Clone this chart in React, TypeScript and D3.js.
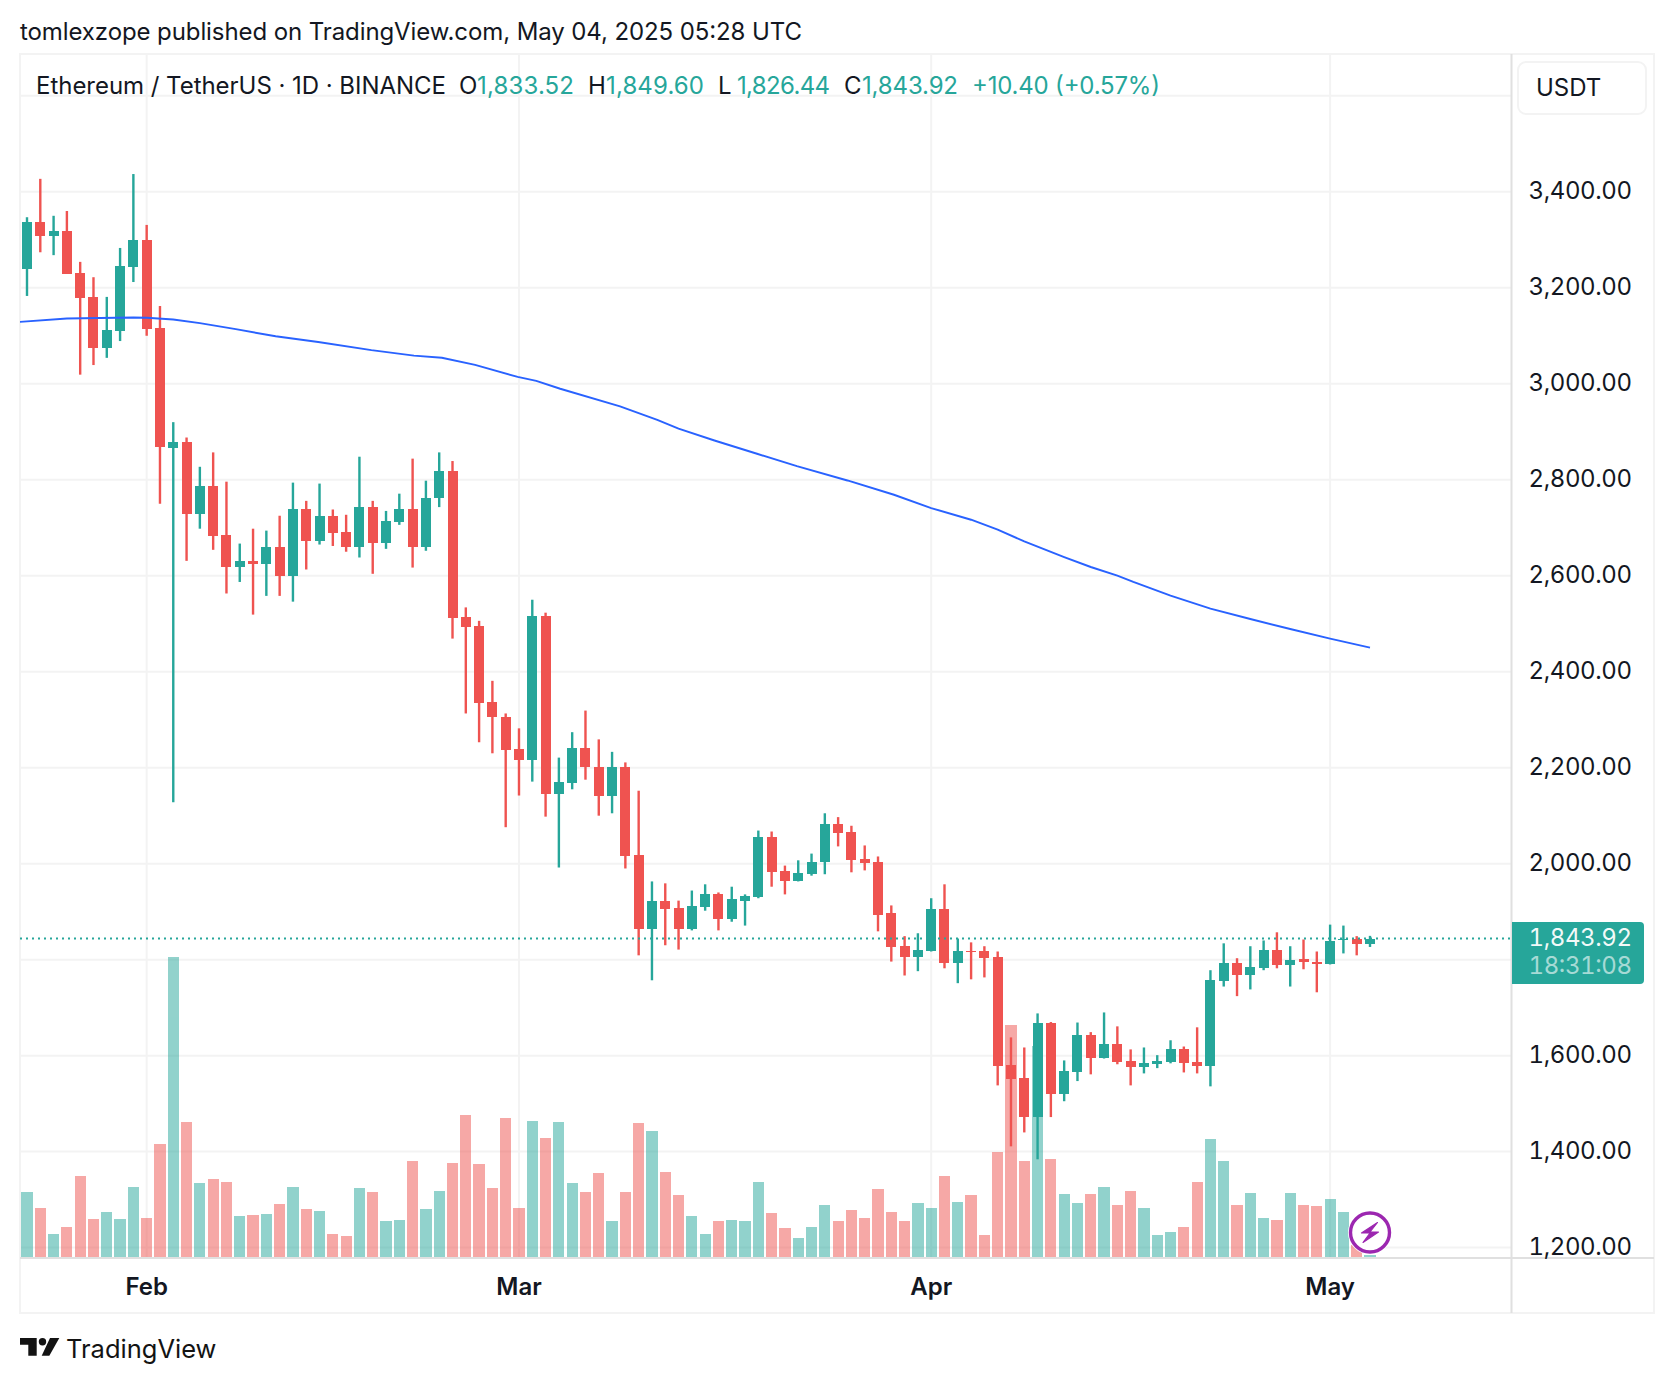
import React from "react";
import * as d3 from "d3";

// Daily ETH/USDT candles, 23 Jan 2025 to 4 May 2025
const opens = [3239,3337,3308,3318,3231,3181,3075,3110,3243,3300,3117,2867,2879,2729,2787,2685,2619,2631,2625,2660,2600,2738,2673,2725,2691,2659,2743,2669,2712,2738,2660,2761,2819,2513,2496,2336,2306,2238,2215,2517,2146,2169,2242,2202,2140,2202,2019,1863,1923,1907,1863,1909,1936,1884,1923,1930,2055,1984,1963,1978,2003,2082,2065,2009,2003,1897,1828,1805,1819,1905,1792,1819,1817,1805,1580,1553,1472,1669,1520,1565,1644,1595,1624,1588,1576,1582,1586,1613,1586,1578,1755,1794,1767,1782,1821,1788,1801,1796,1790,1840,1842,1833.52];
const highs = [3347,3427,3350,3360,3254,3222,3181,3283,3437,3331,3162,2920,2888,2827,2857,2796,2667,2698,2694,2725,2794,2756,2792,2738,2727,2848,2756,2735,2771,2844,2798,2857,2839,2534,2506,2381,2313,2282,2550,2523,2221,2274,2319,2259,2233,2211,2152,1963,1959,1923,1944,1957,1940,1952,1936,2069,2067,1996,2007,2021,2105,2097,2079,2038,2015,1913,1849,1855,1928,1957,1844,1836,1828,1817,1638,1617,1688,1670,1590,1669,1649,1690,1661,1613,1617,1601,1632,1619,1659,1778,1834,1803,1828,1840,1857,1828,1842,1817,1873,1871,1849,1849.6];
const lows = [3183,3274,3268,3229,3019,3039,3054,3089,3212,3100,2750,2128,2631,2698,2654,2563,2587,2519,2558,2558,2546,2613,2665,2662,2650,2638,2604,2656,2706,2617,2652,2743,2469,2313,2253,2230,2076,2142,2171,2098,1992,2155,2175,2100,2105,1990,1809,1757,1830,1821,1861,1902,1861,1879,1871,1928,1952,1936,1963,1975,1978,2036,1982,1986,1859,1796,1767,1776,1817,1782,1751,1759,1763,1538,1411,1440,1384,1472,1505,1547,1561,1594,1582,1538,1563,1574,1584,1565,1563,1536,1744,1724,1738,1778,1782,1744,1780,1732,1790,1813,1809,1826.44];
const closes = [3337,3308,3318,3229,3179,3075,3112,3245,3300,3115,2868,2879,2729,2787,2683,2619,2631,2625,2660,2600,2738,2673,2725,2690,2659,2743,2669,2715,2738,2660,2763,2819,2511,2494,2334,2305,2236,2215,2517,2146,2171,2242,2201,2140,2202,2017,1863,1923,1905,1863,1911,1936,1884,1926,1932,2055,1982,1963,1980,2004,2082,2063,2007,2001,1894,1826,1805,1821,1905,1792,1817,1815,1803,1578,1551,1472,1669,1520,1567,1644,1595,1624,1586,1576,1584,1588,1613,1584,1578,1757,1794,1767,1784,1821,1788,1799,1796,1790,1838,1844,1832,1843.92];
// volume in thousands of ETH (estimated from the bars)
const volumes = [520,392,184,240,648,304,360,304,560,312,904,2400,1080,592,624,600,328,336,344,424,560,384,368,184,168,552,520,288,296,768,384,528,752,1136,744,552,1112,392,1088,952,1080,592,520,672,288,520,1072,1008,680,496,328,184,288,296,288,600,352,232,152,240,416,288,376,312,544,360,288,432,392,648,440,496,176,840,1856,768,1688,784,504,432,504,560,416,528,392,176,200,240,600,944,768,416,512,312,296,512,416,408,464,360,96,16];
// moving average line, read at these candle indexes
const maDays = [-1,3,8,9,11,13,15.7,18.7,21.9,25.9,29.1,31.2,33.7,36.9,38.3,40.1,44.6,47.4,49,51.7,54.9,57.9,61.7,65.2,68,71,73,75,78,80,82,83.2,86,89,92,95,98,101];
const maValues = [3128,3136,3138,3137.6,3133.8,3126.4,3113.8,3098.9,3087,3070,3058.7,3054.3,3039.4,3014.2,3006,2989.6,2953,2924.9,2906.3,2881.8,2854.2,2828.2,2798.5,2768.7,2741,2716.7,2695.9,2671.6,2639,2618.2,2600.1,2587,2558.5,2531.4,2509.9,2489,2469,2450.2];
const priceTicks = [1200,1400,1600,2000,2200,2400,2600,2800,3000,3200,3400];
const priceGrid = [...priceTicks, 1800, 3600];
const monthDays = [9,37,68,98];
const monthLabels = ["Feb","Mar","Apr","May"];

const GREEN = "#26a69a";
const RED = "#ef5350";
const BLUE = "#2962ff";
const GRID = "#f3f3f3";
const AXIS = "#e0e0e0";
const INK = "#131722";
const FONT = "Inter, 'Noto Sans', sans-serif";

const L = 20, R = 1511.5, FR = 1654, T = 54, AB = 1258, B = 1313;
const tabular = { fontVariantNumeric: "tabular-nums", fontFeatureSettings: "'tnum'" } as const;

const x = d3.scaleLinear().domain([0, 101]).range([27, 1370]);
const y = d3.scaleLinear().domain([3400, 1200]).range([191.8, 1247.6]);
const v = d3.scaleLinear().domain([0, 2400]).range([1256.5, 956.5]);
const fmt = d3.format(",.2f");
const maLine = d3.line<number>().x((_, i) => x(maDays[i])).y((d) => y(d));

export default function App() {
  const last = closes[closes.length - 1];
  const legend: [number, string, string, number | undefined][] = [
    [36, "Ethereum / TetherUS · 1D · BINANCE", INK, 410],
    [459, "O", INK, undefined], [477, fmt(opens[101]), GREEN, 97],
    [588, "H", INK, undefined], [606, fmt(highs[101]), GREEN, 98],
    [718, "L", INK, undefined], [737, fmt(lows[101]), GREEN, 93],
    [844, "C", INK, undefined], [862, fmt(closes[101]), GREEN, 96],
    [972, "+10.40 (+0.57%)", GREEN, 188],
  ];
  return (
    <svg width={1674} height={1384} viewBox="0 0 1674 1384"
      style={{ position: "absolute", left: 0, top: 0, background: "#fff", fontFamily: FONT }}>
      <defs>
        <clipPath id="pane"><rect x={L} y={T} width={R - L} height={AB - T} /></clipPath>
      </defs>
      <text x={20} y={39.5} fontSize={24} fill="#131722" textLength={782} lengthAdjust="spacing">tomlexzope published on TradingView.com, May 04, 2025 05:28 UTC</text>

      {/* frame */}
      <rect x={L} y={T} width={FR - L} height={B - T} fill="none" stroke={GRID} strokeWidth={2} />

      {/* grid */}
      {priceGrid.map((p) => (
        <line key={p} x1={L} x2={R} y1={y(p)} y2={y(p)} stroke={GRID} strokeWidth={2} />
      ))}
      {monthDays.map((d) => (
        <line key={d} x1={x(d)} x2={x(d)} y1={T} y2={AB} stroke={GRID} strokeWidth={2} />
      ))}

      {/* volume */}
      <g opacity={0.5} shapeRendering="crispEdges">
        {volumes.map((val, i) => (
          <rect key={i} x={x(i) - 5.6} width={11.2} y={v(val)} height={v(0) - v(val)}
            fill={closes[i] >= opens[i] ? GREEN : RED} />
        ))}
      </g>

      {/* candles */}
      <g clipPath="url(#pane)">
        {opens.map((o, i) => {
          const c = closes[i];
          const col = c >= o ? GREEN : RED;
          const top = y(Math.max(o, c));
          const bot = y(Math.min(o, c));
          return (
            <g key={i}>
              <rect x={x(i) - 1.2} width={2.4} y={y(highs[i])} height={y(lows[i]) - y(highs[i])} fill={col} shapeRendering="geometricPrecision" />
              <rect x={x(i) - 5} width={10} y={top} height={Math.max(bot - top, 1)} fill={col} shapeRendering="crispEdges" />
            </g>
          );
        })}
      </g>

      {/* moving average */}
      <path d={maLine(maValues) || ""} clipPath="url(#pane)" fill="none" stroke={BLUE} strokeWidth={1.9} />

      {/* last price line */}
      <line x1={L} x2={R} y1={y(last)} y2={y(last)} stroke={GREEN} strokeWidth={2} strokeDasharray="2 4" />

      {/* axes */}
      <line x1={R} x2={R} y1={T} y2={B} stroke={AXIS} strokeWidth={2} />
      <line x1={L} x2={FR} y1={AB} y2={AB} stroke={AXIS} strokeWidth={2} />

      {priceTicks.map((p) => (
        <text key={p} x={1528.5} y={y(p) - 1.5} dy="0.36em" fontSize={24} fill={INK} style={tabular} textLength={103.5} lengthAdjust="spacing">{fmt(p)}</text>
      ))}
      {monthDays.map((d, i) => (
        <text key={d} x={x(d)} y={1286.5} dy="0.36em" textAnchor="middle" fontSize={24} fontWeight={600} fill={INK}>{monthLabels[i]}</text>
      ))}

      {/* legend */}
      {legend.map(([lx, s, col, len], i) => (
        <text key={i} x={lx} y={93.5} fontSize={24} fill={col} textLength={len} lengthAdjust="spacing">{s}</text>
      ))}

      {/* currency button */}
      <rect x={1518} y={62} width={128} height={52} rx={8} fill="#fff" stroke={GRID} strokeWidth={2} />
      <text x={1536} y={96} fontSize={24} fill={INK}>USDT</text>

      {/* last price label */}
      <path d="M1512 922 H1640 a4 4 0 0 1 4 4 V980 a4 4 0 0 1 -4 4 H1512 Z" fill={GREEN} />
      <text x={1528.5} y={937} dy="0.36em" fontSize={24} fill="#fff" fillOpacity={0.95} style={tabular} textLength={103.5} lengthAdjust="spacing">{fmt(last)}</text>
      <text x={1528.5} y={965} dy="0.36em" fontSize={24} fill="#fff" fillOpacity={0.6} style={tabular} textLength={103.5} lengthAdjust="spacing">18:31:08</text>

      {/* news marker */}
      <circle cx={1370} cy={1232.5} r={22} fill="#fff" />
      <circle cx={1370} cy={1232.5} r={19.5} fill="#fff" stroke="#9c27b0" strokeWidth={3.4} />
      <path d="M1377.5 1222.5 L1361.5 1233 H1370 L1363 1242.5 L1378.5 1232 H1370 Z" fill="#9c27b0" stroke="#9c27b0" strokeWidth={1.2} strokeLinejoin="round" />

      {/* logo */}
      <g fill="#131313">
        <path d="M20 1338 H36.7 V1355.7 H28.3 V1344.7 H20 Z" />
        <circle cx={42.5} cy={1341.7} r={3.7} />
        <path d="M50 1338 H59.3 L49.3 1355.7 H41.7 Z" />
      </g>
      <text x={66} y={1358} fontSize={25.5} fill="#131313">TradingView</text>
    </svg>
  );
}
